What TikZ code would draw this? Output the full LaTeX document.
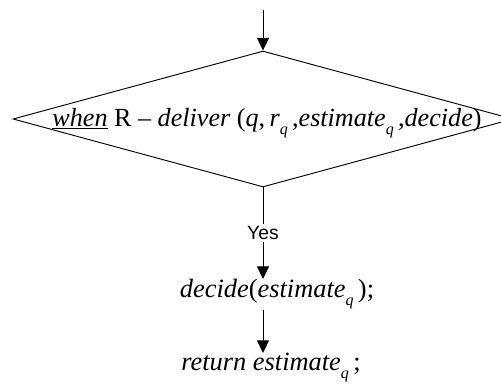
\documentclass[tikz,border=0pt]{standalone}
\usepackage{fontspec}
\setmainfont{Liberation Serif}
\newfontfamily\yesfont{Liberation Sans}
\usetikzlibrary{arrows.meta,shapes.geometric}
% lowered subscript q
\newcommand\qsub{\raisebox{-6pt}{\fontsize{12}{12}\selectfont\itshape q}}

\begin{document}
\begin{tikzpicture}[x=0.75pt,y=-0.75pt,
  line width=0.7pt,
  arr/.style={-{Triangle[length=9.5pt,width=9pt]}},
  stmt/.style={font=\fontsize{19.8}{22}\selectfont, inner sep=0pt},
  decision/.style={diamond, draw, minimum width=375pt, minimum height=102pt, inner sep=0pt},
  cond/.style={font=\fontsize{19.6}{22}\selectfont, inner sep=0pt},
  yeslabel/.style={font=\yesfont\fontsize{14.5}{16}\selectfont, inner sep=1pt}]
\useasboundingbox (0,0) rectangle (501,385);

\coordinate (entry) at (263,10);
\node[decision] (d) at (263,119) {};
\node[cond] (c) at (267,123) {\underline{\textit{when}} R -- \textit{deliver} (\textit{q},\,\textit{r}\qsub\,,\textit{estimate}\qsub\,,\textit{decide})};
\node[yeslabel] (yes) at (263,233) {Yes};
\node[stmt, anchor=north] (dec) at (277,279) {\textit{decide}(\textit{estimate}\qsub\,);};
\node[stmt, anchor=north] (ret) at (271,353) {\textit{return estimate}\qsub\,;};

\draw[arr] (entry) -- (d.north);
\draw (d.south) -- (yes.north);
\draw[arr] (yes.south) -- (yes.south |- dec.north);
\draw[arr] (yes.south |- dec.south) -- (yes.south |- ret.north);
\end{tikzpicture}
\end{document}
